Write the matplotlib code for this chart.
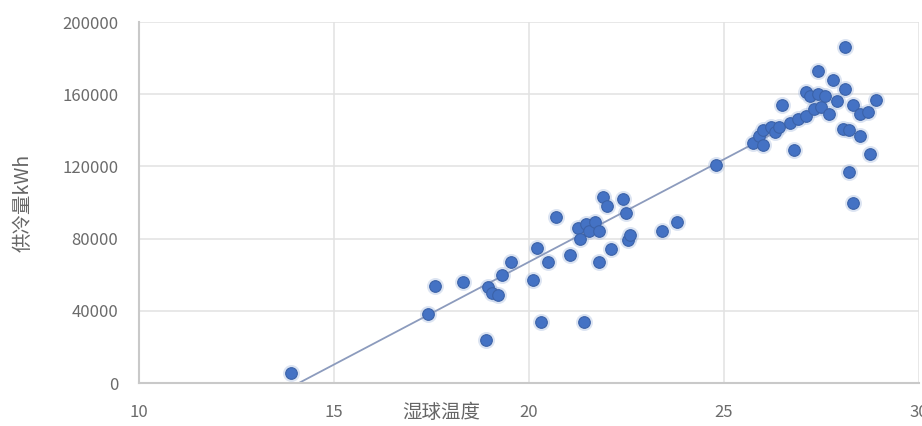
import numpy as np
import matplotlib.pyplot as plt

plt.rcParams['font.family'] = ['Noto Sans CJK SC', 'DejaVu Sans']

# wet-bulb temperature (x) and cooling supply kWh (y)
wet_bulb = [
    13.9, 17.4, 17.6, 18.3, 18.9, 18.95, 19.05, 19.2, 19.3, 19.55,
    20.1, 20.2, 20.3, 20.5, 20.7, 21.05, 21.25, 21.3, 21.4, 21.45,
    21.55, 21.7, 21.8, 21.8, 21.9, 22.0, 22.1, 22.4, 22.5, 22.55,
    22.6, 23.4, 23.8, 24.8,
    25.75, 25.9, 26.0, 26.0, 26.2, 26.3, 26.4, 26.5, 26.7, 26.8,
    26.9, 27.1, 27.1, 27.2, 27.3, 27.4, 27.4, 27.5, 27.6, 27.7,
    27.8, 27.9, 28.05, 28.1, 28.1, 28.2, 28.2, 28.3, 28.3, 28.5,
    28.5, 28.7, 28.75, 28.9,
]
cooling_kwh = [
    5500, 38000, 54000, 56000, 24000, 53000, 50000, 49000, 60000, 67000,
    57000, 75000, 34000, 67000, 92000, 71000, 86000, 80000, 34000, 88000,
    84000, 89000, 84000, 67000, 103000, 98000, 74000, 102000, 94000, 79000,
    82000, 84000, 89000, 121000,
    133000, 137000, 140000, 132000, 142000, 139000, 142000, 154000, 144000, 129000,
    146000, 148000, 161000, 159000, 152000, 173000, 160000, 153000, 159000, 149000,
    168000, 156000, 141000, 186000, 163000, 140000, 117000, 154000, 100000, 149000,
    137000, 150000, 127000, 157000,
]

# linear trendline as drawn in the picture (visible span only)
trend_slope = 11370
trend_intercept = -160300
trend_x = [14.1, 27.3]

x_ticks = [10, 15, 20, 25, 30]
y_ticks = [0, 40000, 80000, 120000, 160000, 200000]

fig = plt.figure(figsize=(9.22, 4.26), dpi=100)
ax = fig.add_axes([0.1508, 0.1009, 0.8459, 0.8474])

x = np.array(wet_bulb)
y = np.array(cooling_kwh)

# soft glow under the markers
ax.scatter(x, y, s=150, color='#9db4dc', alpha=0.35, linewidths=0, zorder=2)
ax.scatter(x, y, s=70, color='#4472c4', edgecolors='#3b62a8', linewidths=0.8, zorder=3)

tx = np.array(trend_x)
ax.plot(tx, trend_slope * tx + trend_intercept, color='#8c9bbd', lw=1.3, zorder=2.5)

ax.set_xlim(10, 30)
ax.set_ylim(0, 200000)
ax.set_xticks(x_ticks)
ax.set_yticks(y_ticks)
ax.set_xticklabels([str(t) for t in x_ticks])
ax.set_yticklabels([str(t) for t in y_ticks])
ax.tick_params(length=0, labelsize=12, colors='#6b6b6b', pad=15)

ax.grid(True, color='#e2e2e2', lw=1.1)
ax.set_axisbelow(True)
for side in ['top', 'right']:
    ax.spines[side].set_visible(False)
for side in ['left', 'bottom']:
    ax.spines[side].set_color('#c9c9c9')
    ax.spines[side].set_linewidth(1.5)

ax.set_xlabel('湿球温度', fontsize=14, color='#666666')
ax.xaxis.set_label_coords(0.387, -0.052)
ax.set_ylabel('供冷量kWh', fontsize=14, color='#666666')
ax.yaxis.set_label_coords(-0.135, 0.5)

fig.savefig('out.png', dpi=100)
